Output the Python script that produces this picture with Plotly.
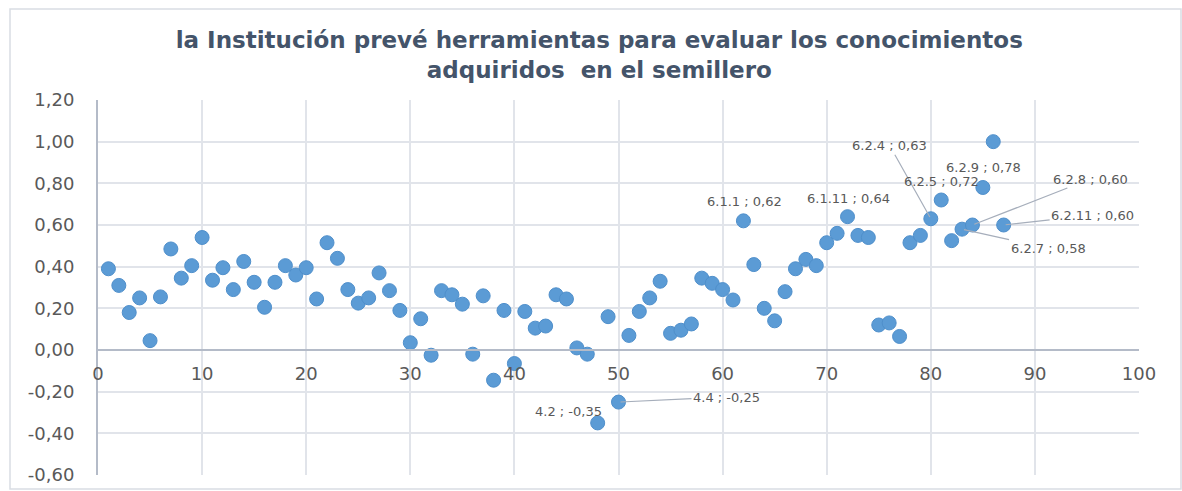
import plotly.graph_objects as go

# Item number and score for each point
items = list(range(1, 88))
scores = [
    0.39, 0.31, 0.18, 0.25, 0.045, 0.255, 0.485, 0.345, 0.405, 0.54,
    0.335, 0.395, 0.29, 0.425, 0.325, 0.205, 0.325, 0.405, 0.36, 0.395,
    0.245, 0.515, 0.44, 0.29, 0.225, 0.25, 0.37, 0.285, 0.19, 0.035,
    0.15, -0.025, 0.285, 0.265, 0.22, -0.02, 0.26, -0.145, 0.19, -0.065,
    0.185, 0.105, 0.115, 0.265, 0.245, 0.01, -0.02, -0.35, 0.16, -0.25,
    0.07, 0.185, 0.25, 0.33, 0.08, 0.095, 0.125, 0.345, 0.32, 0.29,
    0.24, 0.62, 0.41, 0.20, 0.14, 0.28, 0.39, 0.435, 0.405, 0.515,
    0.56, 0.64, 0.55, 0.54, 0.12, 0.13, 0.065, 0.515, 0.55, 0.63,
    0.72, 0.525, 0.58, 0.60, 0.78, 1.00, 0.60,
]

# Axis ticks
x_ticks = [0, 10, 20, 30, 40, 50, 60, 70, 80, 90, 100]
y_ticks = [-0.6, -0.4, -0.2, 0.0, 0.2, 0.4, 0.6, 0.8, 1.0, 1.2]
y_tick_labels = ["-0,60", "-0,40", "-0,20", "0,00", "0,20", "0,40", "0,60", "0,80", "1,00", "1,20"]

# Labelled points: item number -> indicator code
label_items = [48, 50, 62, 72, 80, 81, 83, 84, 85, 87]
label_codes = ["4.2", "4.4", "6.1.1", "6.1.11", "6.2.4", "6.2.5", "6.2.7", "6.2.8", "6.2.9", "6.2.11"]

# Label placement (pixel offsets; leader=True draws a connector line)
label_style = {
    48: dict(dx=-29, dy=-11, leader=False),
    50: dict(dx=108, dy=-5, leader=True),
    62: dict(dx=1, dy=-19, leader=False),
    72: dict(dx=1, dy=-18, leader=False),
    80: dict(dx=-41, dy=-73, leader=True),
    81: dict(dx=0, dy=-19, leader=False),
    83: dict(dx=86, dy=19, leader=True),
    84: dict(dx=118, dy=-46, leader=True),
    85: dict(dx=1, dy=-20, leader=False),
    87: dict(dx=89, dy=-10, leader=True),
}

TEXT = "#595959"
GRID = "#E1E4EA"
AXIS = "#B4BBC8"

fig = go.Figure()
fig.add_trace(go.Scatter(
    x=items, y=scores, mode="markers",
    marker=dict(size=14, color="#5B9BD5", line=dict(color="#4F8FCB", width=1)),
    hoverinfo="skip", showlegend=False,
))


def fmt(v):
    return f"{v:.2f}".replace(".", ",")


for item, code in zip(label_items, label_codes):
    v = scores[items.index(item)]
    st = label_style[item]
    txt = f"{code} ; {fmt(v)}"
    if st["leader"]:
        fig.add_annotation(
            x=item, y=v, text=txt, showarrow=True, ax=st["dx"], ay=st["dy"],
            arrowhead=0, arrowwidth=1.2, arrowcolor="#A6AEBB", standoff=2,
            font=dict(family="DejaVu Sans", size=13, color=TEXT),
        )
    else:
        fig.add_annotation(
            x=item, y=v, text=txt, showarrow=False,
            xshift=st["dx"], yshift=-st["dy"],
            font=dict(family="DejaVu Sans", size=13, color=TEXT),
        )

# Outer chart frame
fig.add_shape(
    type="rect", xref="paper", yref="paper",
    x0=(10 - 98) / 1041, x1=(1181 - 98) / 1041,
    y0=(475 - 489) / 375, y1=(475 - 9) / 375,
    line=dict(color="#D9DDE3", width=1.5), fillcolor="rgba(0,0,0,0)", layer="below",
)

fig.update_layout(
    width=1182, height=491, autosize=False,
    margin=dict(l=98, r=43, t=100, b=16),
    paper_bgcolor="white", plot_bgcolor="white",
    separators=",.",
    title=dict(
        text="la Institución prevé herramientas para evaluar los conocimientos<br>adquiridos  en el semillero",
        x=0.507, xanchor="center", xref="container",
        y=1 - 48 / 491, yanchor="top", yref="container",
        font=dict(family="DejaVu Sans", size=23, color="#44546A", weight="bold"),
    ),
    xaxis=dict(
        range=[0, 100], tickvals=x_ticks,
        showgrid=True, gridcolor=GRID, gridwidth=1.5,
        zeroline=False, showline=True, linecolor=AXIS, linewidth=1.5,
        anchor="free", position=1 / 3, automargin=False,
        ticks="", ticklabelstandoff=8,
        tickfont=dict(family="DejaVu Sans", size=18, color=TEXT),
    ),
    yaxis=dict(
        range=[-0.6, 1.2], tickvals=y_ticks, ticktext=y_tick_labels,
        showgrid=True, gridcolor=GRID, gridwidth=1.5,
        zeroline=False, showline=True, linecolor=AXIS, linewidth=2,
        automargin=False,
        ticks="", ticklabelstandoff=18,
        tickfont=dict(family="DejaVu Sans", size=18, color=TEXT),
    ),
)

fig.write_html("out.html")
